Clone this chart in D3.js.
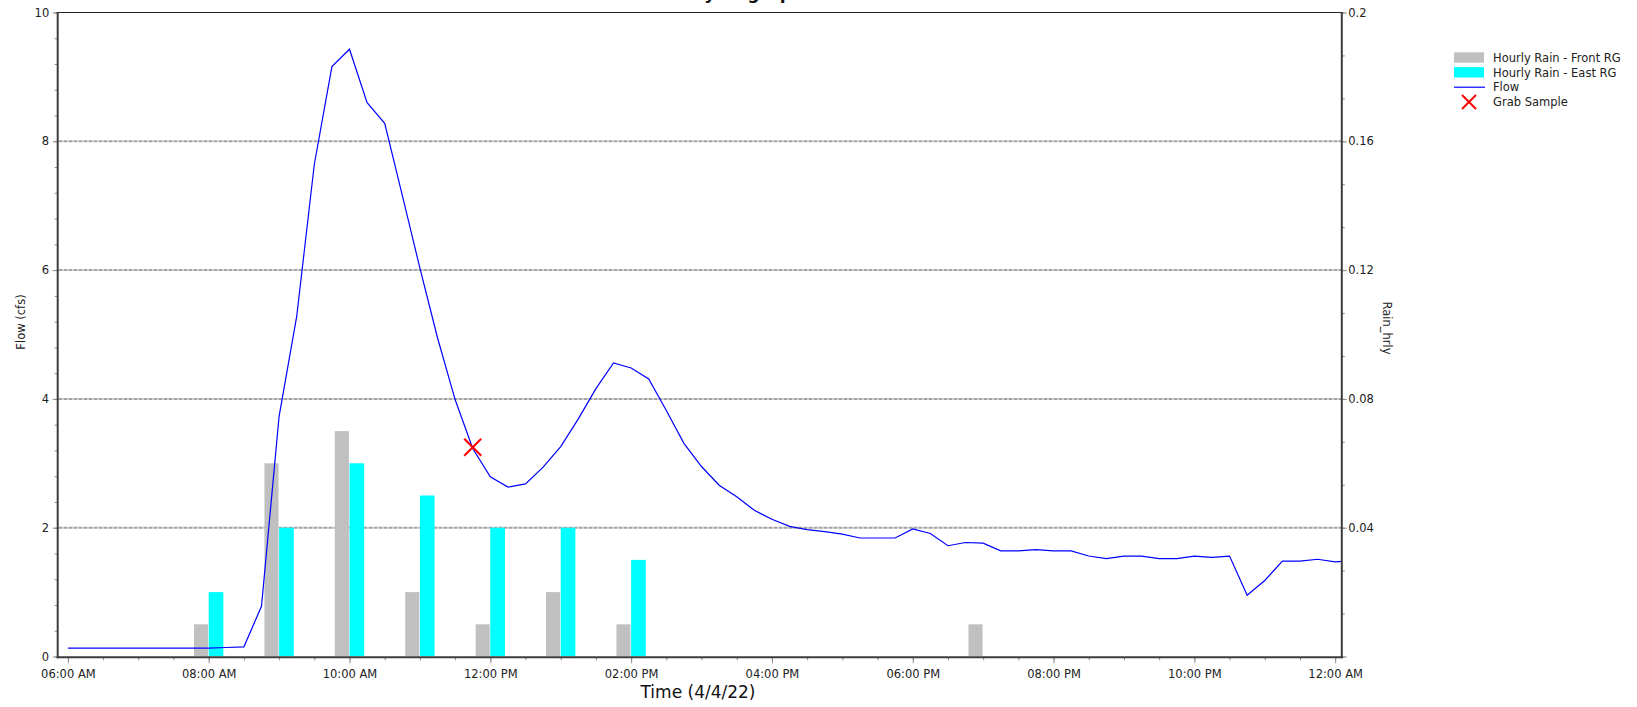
<!DOCTYPE html>
<html>
<head>
<meta charset="utf-8">
<script src="https://cdnjs.cloudflare.com/ajax/libs/d3/7.8.5/d3.min.js"></script>
<style>
  html, body { margin: 0; padding: 0; background: #fff; }
  svg { display: block; font-family: "DejaVu Sans", Verdana, sans-serif; }
</style>
</head>
<body>
<svg id="chart" width="1637" height="707"></svg>
<script>
// ---------------- DATA ----------------
const chartTitle = "Hydrograph";
const xAxisTitle = "Time (4/4/22)";
const yLeftTitle = "Flow (cfs)";
const yRightTitle = "Rain_hrly";

// Flow readings, every 15 minutes (4/4/22 06:00 -> 4/5/22 00:15)
const flowTimes = [
  "06:00","06:15","06:30","06:45","07:00","07:15","07:30","07:45",
  "08:00","08:15","08:30","08:45","09:00","09:15","09:30","09:45",
  "10:00","10:15","10:30","10:45","11:00","11:15","11:30","11:45",
  "12:00","12:15","12:30","12:45","13:00","13:15","13:30","13:45",
  "14:00","14:15","14:30","14:45","15:00","15:15","15:30","15:45",
  "16:00","16:15","16:30","16:45","17:00","17:15","17:30","17:45",
  "18:00","18:15","18:30","18:45","19:00","19:15","19:30","19:45",
  "20:00","20:15","20:30","20:45","21:00","21:15","21:30","21:45",
  "22:00","22:15","22:30","22:45","23:00","23:15","23:30","23:45",
  "24:00","24:15"
];
const flowValues = [
  0.13,0.13,0.13,0.13,0.13,0.13,0.13,0.13,
  0.13,0.14,0.15,0.78,3.73,5.28,7.64,9.16,
  9.43,8.60,8.28,7.16,6.03,4.95,3.99,3.23,
  2.79,2.63,2.68,2.94,3.26,3.69,4.16,4.56,
  4.48,4.31,3.82,3.31,2.95,2.66,2.48,2.27,
  2.13,2.02,1.97,1.94,1.90,1.84,1.84,1.84,
  1.98,1.91,1.72,1.77,1.76,1.64,1.64,1.66,
  1.64,1.64,1.56,1.52,1.56,1.56,1.52,1.52,
  1.56,1.54,1.56,0.95,1.18,1.48,1.48,1.51,
  1.47,1.49
];

// Hourly rain (inches) at the two rain gauges
const rainHours = ["08:00","09:00","10:00","11:00","12:00","13:00","14:00","19:00"];
const rainFront = [0.01, 0.06, 0.07, 0.02, 0.01, 0.02, 0.01, 0.01];
const rainEast  = [0.02, 0.04, 0.06, 0.05, 0.04, 0.04, 0.03, 0.00];

// Grab sample
const grabTimes = ["11:45"];
const grabFlow  = [3.25];

// Axis ticks
const xMajorTicks = ["06:00","08:00","10:00","12:00","14:00","16:00","18:00","20:00","22:00","24:00"];
const yLeftTicks  = [0, 2, 4, 6, 8, 10];
const yRightTicks = [0, 0.04, 0.08, 0.12, 0.16, 0.2];

const legendLabels = ["Hourly Rain - Front RG", "Hourly Rain - East RG", "Flow", "Grab Sample"];

// ---------------- HELPERS ----------------
function toDate(hm) {
  const [h, m] = hm.split(":").map(Number);
  return new Date(2022, 3, 4, h, m);
}
function addMin(d, m) { return new Date(d.getTime() + m * 60000); }

// ---------------- LAYOUT ----------------
const L = 58.5, R = 1341.5, T = 12.5, B = 656.5;
const svg = d3.select("#chart");

const x = d3.scaleTime()
  .domain([toDate("05:52"), new Date(2022, 3, 5, 0, 5, 24)])
  .range([L, R]);
const yL = d3.scaleLinear().domain([0, 10]).range([B, T]);
const yR = d3.scaleLinear().domain([0, 0.2]).range([B, T]);

svg.append("defs").append("clipPath").attr("id", "plotclip")
  .append("rect").attr("x", L).attr("y", T).attr("width", R - L).attr("height", B - T);

// Gridlines
svg.append("g").selectAll("line")
  .data(yLeftTicks.filter(v => v > 0 && v < 10))
  .join("line")
  .attr("x1", L).attr("x2", R)
  .attr("y1", d => yL(d)).attr("y2", d => yL(d))
  .attr("stroke", "#a2a2a2").attr("stroke-width", 2)
  .attr("stroke-dasharray", "4,1");

// Bars
const barMin = 12.5;
const bars = svg.append("g").attr("clip-path", "url(#plotclip)");
rainHours.forEach((h, i) => {
  const t = toDate(h);
  if (rainFront[i] > 0) {
    bars.append("rect")
      .attr("x", x(addMin(t, -barMin))).attr("width", x(t) - x(addMin(t, -barMin)) - 0.6)
      .attr("y", yR(rainFront[i])).attr("height", yR(0) - yR(rainFront[i]))
      .attr("fill", "#c0c0c0");
  }
  if (rainEast[i] > 0) {
    bars.append("rect")
      .attr("x", x(t)).attr("width", x(addMin(t, barMin)) - x(t))
      .attr("y", yR(rainEast[i])).attr("height", yR(0) - yR(rainEast[i]))
      .attr("fill", "#00ffff");
  }
});

// Flow line
const flowData = flowTimes.map((t, i) => ({ t: toDate(t), v: flowValues[i] }));
svg.append("path")
  .datum(flowData)
  .attr("clip-path", "url(#plotclip)")
  .attr("fill", "none")
  .attr("stroke", "#0000ff")
  .attr("stroke-width", 1.2)
  .attr("d", d3.line().x(d => x(d.t)).y(d => yL(d.v)));

// Grab sample markers
const xMark = (g, cx, cy, s) => {
  g.append("line").attr("x1", cx - s).attr("y1", cy - s).attr("x2", cx + s).attr("y2", cy + s);
  g.append("line").attr("x1", cx - s).attr("y1", cy + s).attr("x2", cx + s).attr("y2", cy - s);
};
const grabG = svg.append("g").attr("stroke", "#ff0000").attr("stroke-width", 2);
grabTimes.forEach((t, i) => xMark(grabG, x(toDate(t)), yL(grabFlow[i]), 8.5));

// ---------------- AXES ----------------
const axisColor = "#3c3c3c";
const tickColor = "#8c8c8c";
const labelFont = "11.5px";

// Bottom axis
const gx = svg.append("g").attr("transform", `translate(0,${B + 0.8})`);
gx.call(d3.axisBottom(x).tickValues(d3.timeMinute.every(30).range(toDate("06:00"), addMin(toDate("24:00"), 1)))
  .tickSize(3).tickFormat(""));
gx.append("g").call(d3.axisBottom(x).tickValues(xMajorTicks.map(toDate)).tickSize(6)
  .tickFormat(d3.timeFormat("%I:%M %p")));
gx.selectAll(".domain").remove();
gx.selectAll("line").attr("stroke", tickColor);
gx.selectAll("text").attr("y", 21).attr("dy", null)
  .style("font-size", labelFont).attr("fill", "#222").style("font-family", "DejaVu Sans, Verdana, sans-serif");

// Left axis
const gyl = svg.append("g").attr("transform", `translate(${L - 0.8},0)`);
gyl.call(d3.axisLeft(yL).tickValues(d3.range(0, 10.001, 0.4)).tickSize(3).tickFormat(""));
gyl.append("g").call(d3.axisLeft(yL).tickValues(yLeftTicks).tickSize(5).tickFormat(d3.format("d")));
gyl.selectAll(".domain").remove();
gyl.selectAll("line").attr("stroke", tickColor);
gyl.selectAll("text").attr("x", -8.5).style("font-size", labelFont).attr("fill", "#222")
  .style("font-family", "DejaVu Sans, Verdana, sans-serif");

// Right axis
const gyr = svg.append("g").attr("transform", `translate(${R + 0.3},0)`);
gyr.call(d3.axisRight(yR).tickValues(d3.range(0, 0.2001, 0.04 / 3)).tickSize(3).tickFormat(""));
gyr.append("g").call(d3.axisRight(yR).tickValues(yRightTicks).tickSize(5)
  .tickFormat(d => d === 0 ? "" : d3.format("")(+d.toFixed(2))));
gyr.selectAll(".domain").remove();
gyr.selectAll("line").attr("stroke", tickColor);
gyr.selectAll("text").attr("x", 6.5).style("font-size", labelFont).attr("fill", "#222")
  .style("font-family", "DejaVu Sans, Verdana, sans-serif");

// Frame lines
svg.append("line").attr("x1", L - 1.8).attr("x2", R + 1.2).attr("y1", T).attr("y2", T)
  .attr("stroke", "#222").attr("stroke-width", 1.2);
svg.append("line").attr("x1", L - 0.8).attr("x2", L - 0.8).attr("y1", T - 0.6).attr("y2", B + 1.8)
  .attr("stroke", axisColor).attr("stroke-width", 2);
svg.append("line").attr("x1", R + 0.3).attr("x2", R + 0.3).attr("y1", T - 0.6).attr("y2", B + 1.8)
  .attr("stroke", axisColor).attr("stroke-width", 2);
svg.append("line").attr("x1", L - 1.8).attr("x2", R + 1.3).attr("y1", B + 0.8).attr("y2", B + 0.8)
  .attr("stroke", axisColor).attr("stroke-width", 2);

// Axis titles
svg.append("text").attr("x", 698).attr("y", 698).attr("text-anchor", "middle")
  .style("font-size", "17px").attr("fill", "#111").text(xAxisTitle);
svg.append("text").attr("transform", "translate(25,322) rotate(-90)").attr("text-anchor", "middle")
  .style("font-size", labelFont).attr("fill", "#222").text(yLeftTitle);
svg.append("text").attr("transform", "translate(1383,328) rotate(90)").attr("text-anchor", "middle")
  .style("font-size", labelFont).attr("fill", "#222").text(yRightTitle);

// Title (mostly cut off at the top edge, as in the original)
svg.append("text").attr("x", 747).attr("y", -0.8).attr("text-anchor", "middle")
  .style("font-size", "17px").style("font-weight", "bold").attr("fill", "#111").text(chartTitle);

// ---------------- LEGEND ----------------
const lg = svg.append("g").attr("transform", "translate(1454,0)");
const rowY = [57.5, 72.3, 87.2, 102];
lg.append("rect").attr("x", 0).attr("y", rowY[0] - 5.2).attr("width", 30).attr("height", 10.4).attr("fill", "#c0c0c0");
lg.append("rect").attr("x", 0).attr("y", rowY[1] - 5.2).attr("width", 30).attr("height", 10.4).attr("fill", "#00ffff");
lg.append("line").attr("x1", 0).attr("x2", 31).attr("y1", rowY[2]).attr("y2", rowY[2])
  .attr("stroke", "#0000ff").attr("stroke-width", 1.2);
const lgX = lg.append("g").attr("stroke", "#ff0000").attr("stroke-width", 2);
xMark(lgX, 15, rowY[3], 7);
lg.selectAll("text.lab").data(legendLabels).join("text").attr("class", "lab")
  .attr("x", 39).attr("y", (d, i) => rowY[i] + 4.2)
  .style("font-size", labelFont).attr("fill", "#222").text(d => d);
</script>
</body>
</html>
